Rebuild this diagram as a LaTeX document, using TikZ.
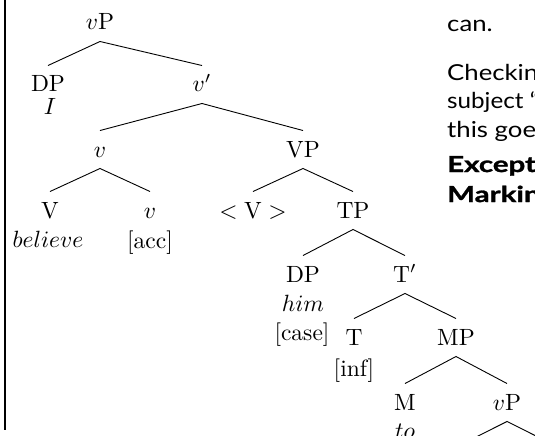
\documentclass[tikz,border=0pt]{standalone}
\usepackage{fontspec}
\newfontfamily\gill{Lato}[FakeStretch=1.17]
\newfontfamily\gillb{Lato}[FakeStretch=1.34, BoldFeatures={FakeBold=1.3}]
\begin{document}
\begin{tikzpicture}[x=1pt,y=-1pt,
 lab/.style={anchor=base, scale=2.35, transform shape, inner xsep=0pt, inner ysep=4.26pt, text height=6.81pt, text depth=0.43pt, font=\normalsize},
 sub/.style={anchor=base, scale=2.35, transform shape, inner sep=0pt, font=\normalsize},
 edge/.style={line width=0.9pt},
 para/.style={anchor=base west, inner sep=0pt, font=\gill\fontsize{22}{26}\selectfont},
 parab/.style={anchor=base west, inner sep=0pt, font=\gillb\bfseries\fontsize{22}{26}\selectfont}]
\useasboundingbox (0,0) rectangle (535,436);
\clip (0,0) rectangle (535,436);
% page rule
\coordinate (r1) at (5,0); \coordinate (r2) at (5,430);
\draw[line width=1.2pt] (r1) -- (r2);
% tree
\node[lab] (vP) at (100,30) {$v$P};
\node[lab] (DP) at (48,92) {DP};
\node[sub] (I) at (50,114) {$I$};
\node[lab] (vbar) at (202,92) {$v'$};
\node[lab] (v) at (100,157) {$v$};
\node[lab] (VP) at (303,157) {VP};
\node[lab] (V) at (50,218) {V};
\node[lab] (vv) at (150,218) {$v$};
\node[sub] (believe) at (48,247) {$believe$};
\node[sub] (acc) at (150,248) {[acc]};
\node[lab] (Vt) at (253,218) {$<$\hspace{0.28em}V\hspace{0.28em}$>$};
\node[lab] (TP) at (353,218) {TP};
\node[lab] (DP2) at (303,282) {DP};
\node[sub] (him) at (303,311) {$him$};
\node[sub] (case) at (302,340) {[case]};
\node[lab] (Tbar) at (405,282) {T$'$};
\node[lab] (T) at (354,345) {T};
\node[sub] (inf) at (354,376) {[inf]};
\node[lab] (MP) at (456,345) {MP};
\node[lab] (M) at (405,410) {M};
\node[sub] (to) at (405,438) {$to$};
\node[lab] (vP2) at (507,410) {$v$P};
\coordinate (c1) at (456,447);
\coordinate (c2) at (558,447);
\draw[edge] (DP.north) -- (vP.south) -- (vbar.north);
\draw[edge] (v.north) -- (vbar.south) -- (VP.north);
\draw[edge] (V.north) -- (v.south) -- (vv.north);
\draw[edge] (Vt.north) -- (VP.south) -- (TP.north);
\draw[edge] (DP2.north) -- (TP.south) -- (Tbar.north);
\draw[edge] (T.north) -- (Tbar.south) -- (MP.north);
\draw[edge] (M.north) -- (MP.south) -- (vP2.north);
\draw[edge] (c1) -- (vP2.south) -- (c2);
% side text
\node[para] (t0) at (447,32) {can.};
\node[para] (t1) at (447,80) {Checking};
\node[para, font=\gill\fontsize{22}{26}\selectfont\addfontfeature{FakeStretch=1.1}] (t2) at (447,108) {subject “him”};
\node[para] (t3) at (447,137) {this goes};
\node[parab] (t4) at (447,172) {Exceptional};
\node[parab] (t5) at (447,202) {Marking};
\end{tikzpicture}
\end{document}
